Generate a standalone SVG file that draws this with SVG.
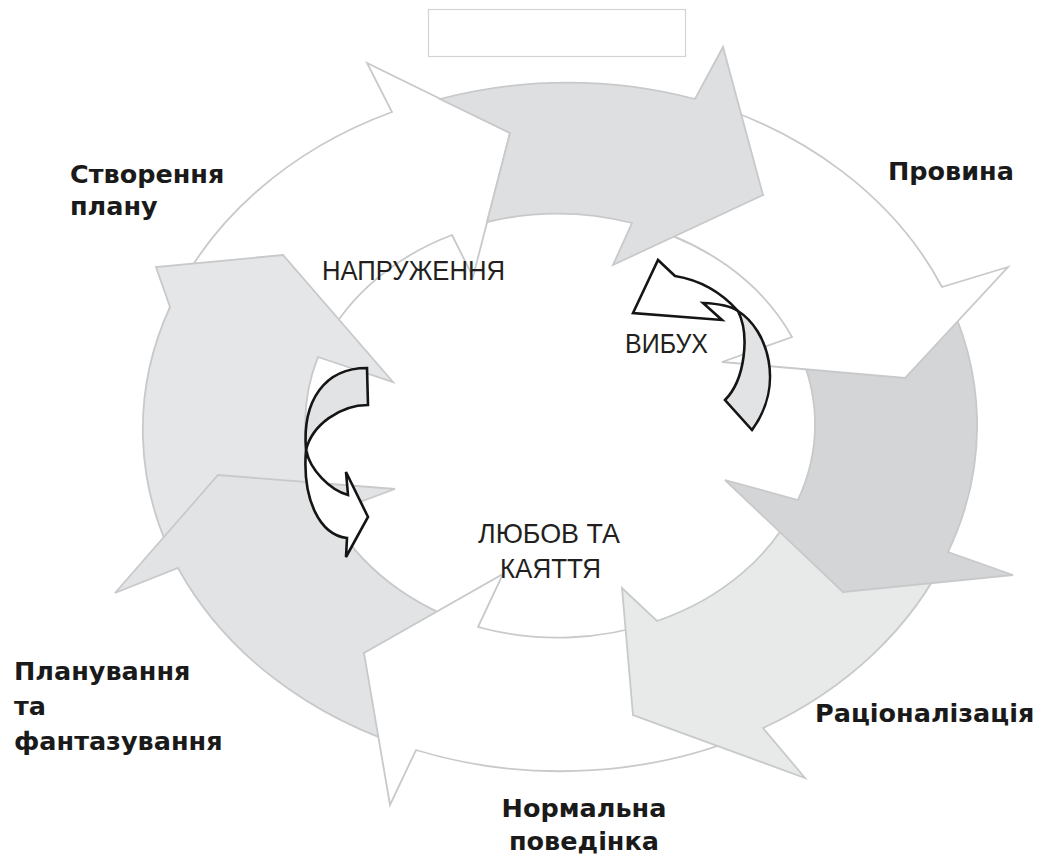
<svg xmlns="http://www.w3.org/2000/svg" width="1044" height="858" viewBox="0 0 1044 858">
<style>
.ring{stroke:#c8c9cb;stroke-width:1.8;stroke-linejoin:miter}
.w{fill:#ffffff}
.small{stroke:#151515;stroke-width:2.6;stroke-linejoin:miter}
.lbl{font-family:"DejaVu Sans",Verdana,sans-serif;font-weight:bold;font-size:25.5px;fill:#1a1a1a}
.in{font-family:"Liberation Sans",Arial,sans-serif;font-size:28px;fill:#231f20}
</style>
<rect x="0" y="0" width="1044" height="858" fill="#ffffff"/>
<rect id="title-box" x="428.5" y="9.5" width="257" height="47" fill="#ffffff" stroke="#d3d3d3" stroke-width="1.2"/>
<g id="connectors">
  <g id="arrow-h"><path class="ring w" d="M170,307 A418,345 0 0 1 392,112 L367,63 L510,133 L473,277 L452,235 A254,210 0 0 0 318,357 L283,255 Z"/></g>
  <g id="arrow-g"><path class="ring" fill="#e5e6e7" d="M178,568 A418,345 0 0 1 170,307 L156,267 L283,255 L393,382 L318,357 A254,210 0 0 0 330,513 L218,475 Z"/></g>
  <g id="arrow-f"><path class="ring" fill="#e2e3e4" d="M416,750 A418,345 0 0 1 178,568 L115,593 L218,475 L395,489 L330,513 A254,210 0 0 0 478,627 L364,653 Z"/></g>
  <g id="arrow-e"><path class="ring w" d="M763,728 A418,345 0 0 1 416,750 L390,805 L364,653 L503,574 L478,627 A254,210 0 0 0 657,621 L633,715 Z"/></g>
  <g id="arrow-d"><path class="ring" fill="#e8e9e9" d="M948,552 A418,345 0 0 1 763,728 L805,778 L633,715 L622,588 L657,621 A254,210 0 0 0 798,500 L843,592 Z"/></g>
  <g id="arrow-c"><path class="ring" fill="#d4d5d7" d="M942,287 A418,345 0 0 1 948,552 L1013,575 L843,592 L725,480 L798,500 A254,210 0 0 0 792,337 L905,378 Z"/></g>
  <g id="arrow-b"><path class="ring w" d="M695,99 A418,345 0 0 1 942,287 L1008,267 L905,378 L722,362 L792,337 A254,210 0 0 0 632,223 L763,195 Z"/></g>
  <g id="arrow-a"><path class="ring" fill="#dedfe1" d="M440,99 A418,345 0 0 1 695,99 L723,47 L763,195 L613,265 L632,223 A254,210 0 0 0 487,222 L510,133 Z"/></g>
</g>
<g id="vybukh-arrow">
  <path class="small" fill="#e2e3e5" d="M738,311 C768,330 785,385 752,430 L725,400 C745,380 750,335 738,311 Z"/>
  <path class="small" fill="#ffffff" d="M738,311 Q712,282 675,276 L658,260 L633,313 L722,320 L703,303 Q728,304 738,311 Z"/>
</g>
<g id="left-arrow">
  <path class="small" fill="#e2e3e5" d="M367,368 L368,405 C340,405 312,425 306,450 C302,400 325,368 367,368 Z"/>
  <path class="small" fill="#ffffff" d="M306,450 C302,500 320,535 347,538 L346,557 L368,517 L346,472 L348,495 C330,490 310,470 306,450 Z"/>
</g>
<g id="node-napruzhennia"><text class="in" x="322" y="280" textLength="183" lengthAdjust="spacingAndGlyphs">НАПРУЖЕННЯ</text></g>
<g id="node-vybukh"><text class="in" x="625" y="353" textLength="83" lengthAdjust="spacingAndGlyphs">ВИБУХ</text></g>
<g id="node-liubov">
  <text class="in" x="478" y="543" textLength="142" lengthAdjust="spacingAndGlyphs">ЛЮБОВ ТА</text>
  <text class="in" x="500" y="578" textLength="101" lengthAdjust="spacingAndGlyphs">КАЯТТЯ</text>
</g>
<g id="node-stvorennia">
  <text class="lbl" x="70" y="183">Створення</text>
  <text class="lbl" x="70" y="215">плану</text>
</g>
<g id="node-provyna"><text class="lbl" x="888" y="180">Провина</text></g>
<g id="node-ratsionalizatsiia"><text class="lbl" x="815" y="722">Раціоналізація</text></g>
<g id="node-normalna">
  <text class="lbl" x="584" y="817" text-anchor="middle">Нормальна</text>
  <text class="lbl" x="584" y="850" text-anchor="middle">поведінка</text>
</g>
<g id="node-planuvannia">
  <text class="lbl" x="14" y="680">Планування</text>
  <text class="lbl" x="14" y="715">та</text>
  <text class="lbl" x="14" y="750">фантазування</text>
</g>
</svg>
